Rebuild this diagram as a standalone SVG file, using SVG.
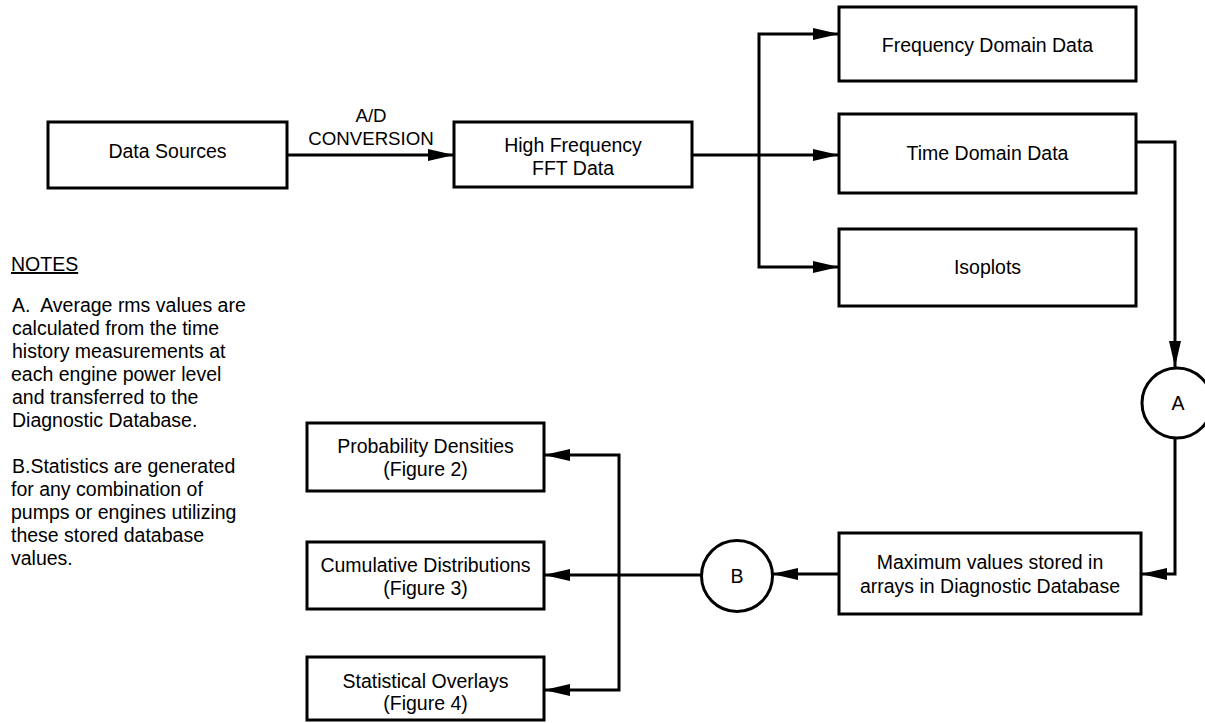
<svg xmlns="http://www.w3.org/2000/svg" width="1205" height="723" viewBox="0 0 1205 723">
  <style>
    .box { fill: #fff; stroke: #000; stroke-width: 3; }
    .node text, .lbl, .note { font-family: "Liberation Sans", Arial, sans-serif; font-size: 19.5px; fill: #000; }
    .node text, .lbl { text-anchor: middle; }
    .lbl { font-size: 18.7px; }
    .wire { fill: none; stroke: #000; stroke-width: 3; }
    .arr { marker-end: url(#head); }
  </style>
  <defs>
    <marker id="head" markerUnits="userSpaceOnUse" markerWidth="26" markerHeight="12" refX="26" refY="6" orient="auto">
      <path d="M0,0 L26,6 L0,12 z" fill="#000"/>
    </marker>
  </defs>

  <!-- connectors -->
  <g id="connectors">
    <path class="wire arr" d="M287,155 H454"/>
    <path class="wire arr" d="M692,155 H839"/>
    <path class="wire arr" d="M759,155 V34 H839"/>
    <path class="wire arr" d="M759,155 V267 H839"/>
    <path class="wire arr" d="M1136,142 H1175 V367"/>
    <path class="wire arr" d="M1175,438 V574 H1141"/>
    <path class="wire arr" d="M839,574 H772"/>
    <path class="wire arr" d="M701,575 H544"/>
    <path class="wire arr" d="M619,575 V455 H544"/>
    <path class="wire arr" d="M619,575 V690 H544"/>
    <text class="lbl" x="371" y="122">A/D</text>
    <text class="lbl" x="371" y="145">CONVERSION</text>
  </g>

  <!-- nodes -->
  <g id="data-sources" class="node">
    <rect class="box" x="48" y="122" width="239" height="66"/>
    <text x="167.5" y="158">Data Sources</text>
  </g>
  <g id="hf-fft" class="node">
    <rect class="box" x="454" y="122" width="238" height="65"/>
    <text x="573" y="152">High Frequency</text>
    <text x="573" y="175">FFT Data</text>
  </g>
  <g id="freq-domain" class="node">
    <rect class="box" x="839" y="7" width="297" height="74"/>
    <text x="987.5" y="52">Frequency Domain Data</text>
  </g>
  <g id="time-domain" class="node">
    <rect class="box" x="839" y="114" width="297" height="79"/>
    <text x="987.5" y="160">Time Domain Data</text>
  </g>
  <g id="isoplots" class="node">
    <rect class="box" x="839" y="229" width="297" height="77"/>
    <text x="987.5" y="274">Isoplots</text>
  </g>
  <g id="conn-a" class="node">
    <circle class="box" cx="1177" cy="403" r="35"/>
    <text x="1178" y="410">A</text>
  </g>
  <g id="max-values" class="node">
    <rect class="box" x="839" y="533" width="302" height="81"/>
    <text x="990" y="569">Maximum values stored in</text>
    <text x="990" y="593">arrays in Diagnostic Database</text>
  </g>
  <g id="conn-b" class="node">
    <circle class="box" cx="737" cy="576" r="35.5"/>
    <text x="737" y="583">B</text>
  </g>
  <g id="prob-densities" class="node">
    <rect class="box" x="307" y="423" width="237" height="68"/>
    <text x="425.5" y="453">Probability Densities</text>
    <text x="425.5" y="476">(Figure 2)</text>
  </g>
  <g id="cum-dist" class="node">
    <rect class="box" x="307" y="542" width="237" height="67"/>
    <text x="425.5" y="572">Cumulative Distributions</text>
    <text x="425.5" y="595">(Figure 3)</text>
  </g>
  <g id="stat-overlays" class="node">
    <rect class="box" x="307" y="657" width="237" height="63"/>
    <text x="425.5" y="688">Statistical Overlays</text>
    <text x="425.5" y="710">(Figure 4)</text>
  </g>

  <!-- notes -->
  <g id="notes">
    <text class="note" x="11" y="271" text-decoration="underline">NOTES</text>
    <text class="note" x="12" y="312" xml:space="preserve">A.  Average rms values are</text>
    <text class="note" x="12" y="335">calculated from the time</text>
    <text class="note" x="12" y="358">history measurements at</text>
    <text class="note" x="11" y="381">each engine power level</text>
    <text class="note" x="12" y="404">and transferred to the</text>
    <text class="note" x="12" y="427">Diagnostic Database.</text>
    <text class="note" x="12" y="473">B.Statistics are generated</text>
    <text class="note" x="11" y="496">for any combination of</text>
    <text class="note" x="11" y="519">pumps or engines utilizing</text>
    <text class="note" x="11" y="542">these stored database</text>
    <text class="note" x="11" y="565">values.</text>
  </g>
</svg>
